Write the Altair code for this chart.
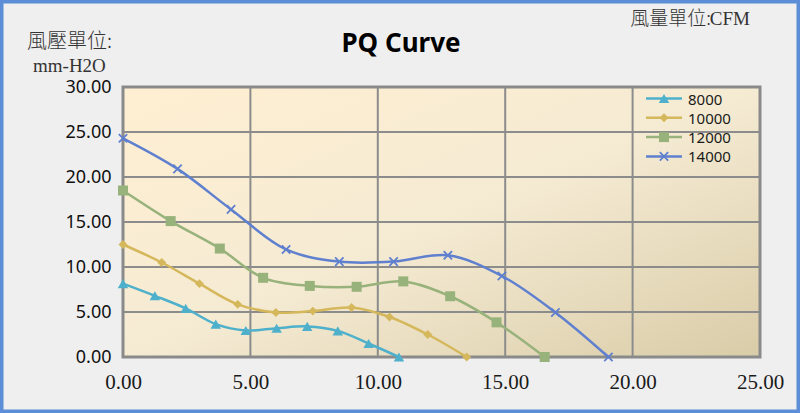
import altair as alt
import pandas as pd

# Plot area size and surrounding padding (pixels)
W, H = 637, 270
PAD_L, PAD_T, PAD_R, PAD_B = 123, 87, 40, 56

series_names = ["8000", "10000", "12000", "14000"]
series_colors = ["#4FB0CC", "#D5B75C", "#98B27B", "#5F7FCF"]

flow_8000 = [0, 1.25, 2.46, 3.64, 4.82, 6.03, 7.23, 8.43, 9.64, 10.83]
pres_8000 = [8.15, 6.8, 5.4, 3.65, 2.95, 3.2, 3.4, 2.9, 1.5, 0]
flow_10000 = [0, 1.52, 3.0, 4.5, 6.0, 7.45, 8.97, 10.46, 11.96, 13.49]
pres_10000 = [12.5, 10.5, 8.15, 5.85, 4.95, 5.1, 5.5, 4.45, 2.5, 0]
flow_12000 = [0, 1.87, 3.8, 5.5, 7.33, 9.17, 11.0, 12.84, 14.66, 16.55]
pres_12000 = [18.5, 15.1, 12.05, 8.8, 7.9, 7.8, 8.4, 6.75, 3.85, 0]
flow_14000 = [0, 2.14, 4.24, 6.4, 8.49, 10.62, 12.75, 14.87, 16.97, 19.05]
pres_14000 = [24.3, 20.9, 16.4, 11.95, 10.6, 10.6, 11.3, 9.0, 4.95, 0]

x_ticks = [0, 5, 10, 15, 20, 25]
y_ticks = [0, 5, 10, 15, 20, 25, 30]

flows = [flow_8000, flow_10000, flow_12000, flow_14000]
pressures = [pres_8000, pres_10000, pres_12000, pres_14000]

rows = []
for name, fl, pr in zip(series_names, flows, pressures):
    for i, (q, p) in enumerate(zip(fl, pr)):
        rows.append({"series": name, "flow": q, "pressure": p, "order": i})
df = pd.DataFrame(rows)

CROSS = "M-1,-1L1,1M-1,1L1,-1"
shapes = ["triangle-up", "diamond", "square", CROSS]
sizes = [110, 80, 100, 70]

x_scale = alt.Scale(domain=[0, 25], nice=False, zero=False)
y_scale = alt.Scale(domain=[0, 30], nice=False, zero=False)
color_scale = alt.Scale(domain=series_names, range=series_colors)

x_axis = alt.Axis(
    values=x_ticks, format=".2f", grid=False, domain=False, ticks=False,
    labelFlush=False, labelOverlap=False,
    labelPadding=14, labelFont="Liberation Serif", labelFontSize=21,
    labelColor="#1A1A1A", title=None,
)
y_axis = alt.Axis(
    values=y_ticks, format=".2f", grid=False, domain=False, ticks=False,
    labelFlush=False, labelOverlap=False,
    labelPadding=12, labelFont="Noto Sans", labelFontSize=18,
    labelColor="#111111", title=None,
)

one = pd.DataFrame({"k": [0]})

# Plot-area background gradient
background = alt.Chart(one).mark_rect(
    color=alt.Gradient(
        gradient="linear",
        stops=[
            alt.GradientStop(color="#FFEFD2", offset=0),
            alt.GradientStop(color="#F5EBD3", offset=0.5),
            alt.GradientStop(color="#D9CCA8", offset=1),
        ],
        x1=0, y1=0, x2=1, y2=1,
    )
).encode(x=alt.value(0), x2=alt.value(W), y=alt.value(0), y2=alt.value(H))

vgrid = alt.Chart(pd.DataFrame({"flow": x_ticks[1:-1]})).mark_rule(
    color="#8C8C8C", strokeWidth=2
).encode(x=alt.X("flow:Q", scale=x_scale, axis=x_axis))

hgrid = alt.Chart(pd.DataFrame({"pressure": y_ticks[1:-1]})).mark_rule(
    color="#8C8C8C", strokeWidth=2
).encode(y=alt.Y("pressure:Q", scale=y_scale, axis=y_axis))

border = alt.Chart(one).mark_rect(
    fill=None, stroke="#8A8A8A", strokeWidth=3
).encode(x=alt.value(0), x2=alt.value(W), y=alt.value(0), y2=alt.value(H))

lines = alt.Chart(df).mark_line(
    interpolate="catmull-rom", strokeWidth=2.5
).encode(
    x=alt.X("flow:Q", scale=x_scale, axis=x_axis),
    y=alt.Y("pressure:Q", scale=y_scale, axis=y_axis),
    color=alt.Color("series:N", scale=color_scale, legend=None),
    detail="series:N",
    order="order:Q",
)

# Markers, one layer per series so each keeps its own glyph and size
point_layers = []
for i, name in enumerate(series_names):
    cross = shapes[i] == CROSS
    point_layers.append(
        alt.Chart(df[df["series"] == name]).mark_point(
            shape=shapes[i], filled=not cross, opacity=1, size=sizes[i],
            strokeWidth=1.8, color=series_colors[i],
        ).encode(
            x=alt.X("flow:Q", scale=x_scale, axis=x_axis),
            y=alt.Y("pressure:Q", scale=y_scale, axis=y_axis),
        )
    )

# Legend drawn inside the plot, top right
legend_layers = []
for i, name in enumerate(series_names):
    yy = 11.5 + 19.3 * i
    d = pd.DataFrame({"series": [name]})
    cross = shapes[i] == CROSS
    legend_layers.append(
        alt.Chart(d).mark_rule(color=series_colors[i], strokeWidth=2.5).encode(
            x=alt.value(523), x2=alt.value(559), y=alt.value(yy)
        )
    )
    legend_layers.append(
        alt.Chart(d).mark_point(
            shape=shapes[i], filled=not cross, opacity=1,
            size=sizes[i], strokeWidth=1.8, color=series_colors[i],
        ).encode(x=alt.value(541), y=alt.value(yy))
    )
    legend_layers.append(
        alt.Chart(d).mark_text(
            align="left", baseline="middle", font="Noto Sans",
            fontSize=15, color="#1A1A1A",
        ).encode(x=alt.value(565), y=alt.value(yy + 1), text="series:N")
    )


def label(text, x, y, font, size, align="left", weight="normal", color="#333333"):
    return alt.Chart(pd.DataFrame({"t": [text]})).mark_text(
        align=align, baseline="alphabetic", font=font, fontSize=size,
        fontWeight=weight, color=color,
    ).encode(x=alt.value(x), y=alt.value(y), text="t:N")


title = label("PQ Curve", 278, -35, "Noto Sans", 26, align="center",
              weight="bold", color="#000000")
p_unit = label("風壓單位:", -96, -39, "Noto Sans CJK TC", 20, weight=300)
p_unit2 = label("mm-H2O", -90, -15, "Liberation Serif", 19)
q_unit = label("風量單位:", 588, -62, "Noto Sans CJK TC", 19, align="right", weight=300)
q_unit2 = label("CFM", 627, -62, "Liberation Serif", 19, align="right")

# Outer blue frame around the whole figure
frame = alt.Chart(one).mark_rect(
    fill=None, stroke="#5B8ED6", strokeWidth=3.5
).encode(
    x=alt.value(-PAD_L + 1.75), x2=alt.value(W + PAD_R - 1.75),
    y=alt.value(-PAD_T + 1.75), y2=alt.value(H + PAD_B - 1.75),
)

chart = alt.layer(
    background, vgrid, hgrid, border, lines, *point_layers,
    *legend_layers, title, p_unit, p_unit2, q_unit, q_unit2, frame,
).properties(
    width=W, height=H,
    autosize=alt.AutoSizeParams(type="none"),
    padding={"left": PAD_L, "top": PAD_T, "right": PAD_R, "bottom": PAD_B},
    background="#EFEFEF",
).configure_view(stroke=None)

chart.save("out.html", embed_options={"renderer": "svg", "actions": False})
